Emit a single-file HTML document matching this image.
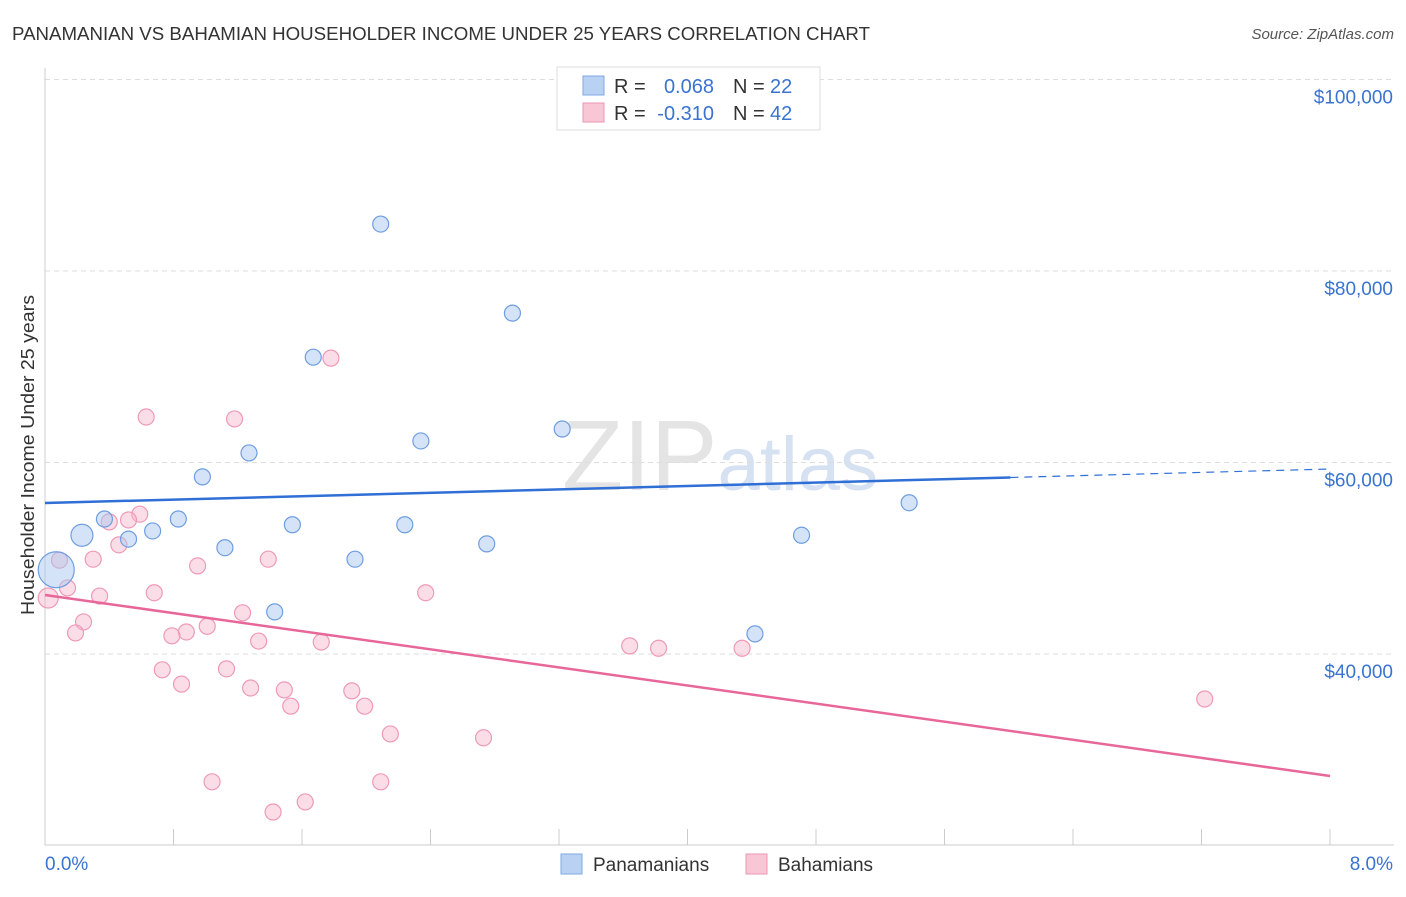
<!DOCTYPE html>
<html><head><meta charset="utf-8"><style>
body{margin:0;background:#fff;font-family:"Liberation Sans",sans-serif;}
svg text{font-family:"Liberation Sans",sans-serif;}
</style></head><body>
<svg width="1406" height="892">
<text x="12" y="40" font-size="18" fill="#333" textLength="858" lengthAdjust="spacingAndGlyphs">PANAMANIAN VS BAHAMIAN HOUSEHOLDER INCOME UNDER 25 YEARS CORRELATION CHART</text>
<text x="1394" y="39" font-size="15" fill="#555" font-style="italic" text-anchor="end">Source: ZipAtlas.com</text>
<text x="720" y="490" font-size="100" fill="#e4e4e4" text-anchor="middle" font-family="Liberation Serif">ZIP<tspan fill="#d6e2f2" font-family="Liberation Sans" font-size="76">atlas</tspan></text>
<g id="grid"></g>
<g id="axes"></g>
<g id="pts"></g>
<g id="trend"></g>
<text transform="translate(34,455) rotate(-90)" font-size="18" fill="#333" text-anchor="middle" textLength="320" lengthAdjust="spacingAndGlyphs">Householder Income Under 25 years</text>
<g>
<rect x="557" y="67" width="263" height="63" fill="#fff" stroke="#ddd"/>
<rect x="583" y="76" width="21" height="19" fill="#b9d1f3" stroke="#7ea8e3"/>
<rect x="583" y="103" width="21" height="19" fill="#f9c6d5" stroke="#ee97b3"/>
<text x="614" y="93" font-size="20" fill="#333">R =</text>
<text x="714" y="93" font-size="20" fill="#3a73d0" text-anchor="end">0.068</text>
<text x="733" y="93" font-size="20" fill="#333">N =</text>
<text x="770" y="93" font-size="20" fill="#3a73d0">22</text>
<text x="614" y="120" font-size="20" fill="#333">R =</text>
<text x="714" y="120" font-size="20" fill="#3a73d0" text-anchor="end">-0.310</text>
<text x="733" y="120" font-size="20" fill="#333">N =</text>
<text x="770" y="120" font-size="20" fill="#3a73d0">42</text>
</g>
<g>
<rect x="561" y="854" width="21" height="20" fill="#b9d1f3" stroke="#7ea8e3"/>
<text x="593" y="871" font-size="19" fill="#333">Panamanians</text>
<rect x="746" y="854" width="21" height="20" fill="#f9c6d5" stroke="#ee97b3"/>
<text x="778" y="871" font-size="19" fill="#333">Bahamians</text>
</g>
</svg>
<script>
const yTicks=[40000,60000,80000,100000];
const yTickLabels=["$40,000","$60,000","$80,000","$100,000"];
const xEnds=[0,8];
const xEndLabels=["0.0%","8.0%"];
const blueX=[2.09,2.91,1.67,3.22,2.34,1.27,0.98,5.38,0.37,0.83,1.54,2.24,0.67,0.23,0.52,4.71,2.75,1.12,1.93,0.07,1.43,4.42];
const blueY=[84900,75600,71000,63500,62250,61000,58500,55800,54100,54100,53500,53500,52850,52400,52000,52400,51500,51100,49900,48800,44400,42100];
const blueR=[8,8,8,8,8,8,8,8,8,8,8,8,8,11,8,8,8,8,8,18,8,8];
const pinkX=[1.78,0.63,1.18,0.59,0.40,0.52,0.46,0.30,1.39,0.09,0.95,0.14,0.68,2.37,0.34,0.02,0.24,1.01,1.23,0.19,0.88,0.79,1.33,1.72,3.64,3.82,4.34,0.73,1.13,0.85,1.28,1.49,1.91,1.53,1.99,2.15,2.73,7.22,1.04,2.09,1.62,1.42];
const pinkY=[70900,64750,64550,54600,53800,54000,51400,49900,49900,49800,49200,46900,46400,46400,46050,45850,43350,42900,44300,42200,42300,41900,41350,41250,40850,40600,40600,38350,38450,36850,36450,36250,36150,34550,34550,31650,31250,35300,26650,26650,24550,23500];
const blueTrend=[55770,59320];
const blueSolidEnd=6.01;
const pinkTrend=[46160,27260];
const NS="http://www.w3.org/2000/svg";
const X=v=>45+v*(1285/8);
const Y=v=>654-(v-40000)*191.5/20000;
function mk(t,a,p){const e=document.createElementNS(NS,t);for(const k in a)e.setAttribute(k,a[k]);p.appendChild(e);return e;}
const grid=document.getElementById('grid'),axes=document.getElementById('axes'),pts=document.getElementById('pts'),tr=document.getElementById('trend');
yTicks.forEach((v,i)=>{
 const l=mk('line',{x1:45,x2:1394,y1:Y(v),y2:Y(v),stroke:'#ddd','stroke-dasharray':'5,4'},grid);
 
 
 const t=mk('text',{x:1393,y:Y(v)+24,'font-size':19,fill:'#3a73d0','text-anchor':'end'},axes);
 t.textContent=yTickLabels[i];
 
 
});
const ax=mk('line',{x1:45,x2:1394,y1:845,y2:845,stroke:'#ccc'},axes);


const ay=mk('line',{x1:45,x2:45,y1:68,y2:845,stroke:'#ccc'},axes);


for(let i=1;i<=10;i++){const tk=mk('line',{x1:X(i*0.8),x2:X(i*0.8),y1:829,y2:845,stroke:'#ccc'},axes);
 
 }
xEnds.forEach((v,i)=>{const t=mk('text',{x:i?1393:45,y:870,'font-size':19,fill:'#3a73d0','text-anchor':i?'end':'start'},axes);
 t.textContent=xEndLabels[i];
 
 });
pinkX.forEach((v,i)=>{const c=mk('circle',{cx:X(v),cy:Y(pinkY[i]),r:i==15?10:8,fill:'rgba(247,180,202,0.45)',stroke:'#ee9ab5','stroke-width':1.2},pts);
 
 });
blueX.forEach((v,i)=>{const c=mk('circle',{cx:X(v),cy:Y(blueY[i]),r:blueR[i],fill:'rgba(170,200,240,0.5)',stroke:'#6f9ee0','stroke-width':1.2},pts);
 
 });
const bAt=x=>blueTrend[0]+(blueTrend[1]-blueTrend[0])*x/8;
const b1=mk('line',{x1:X(0),y1:Y(blueTrend[0]),x2:X(blueSolidEnd),y2:Y(bAt(blueSolidEnd)),stroke:'#2f6fd6','stroke-width':2.5},tr);


const b2=mk('line',{x1:X(blueSolidEnd),y1:Y(bAt(blueSolidEnd)),x2:X(8),y2:Y(blueTrend[1]),stroke:'#2f6fd6','stroke-width':1.2,'stroke-dasharray':'8,6'},tr);


const p1=mk('line',{x1:X(0),y1:Y(pinkTrend[0]),x2:X(8),y2:Y(pinkTrend[1]),stroke:'#e8679a','stroke-width':2.5},tr);


</script>
</body></html>
